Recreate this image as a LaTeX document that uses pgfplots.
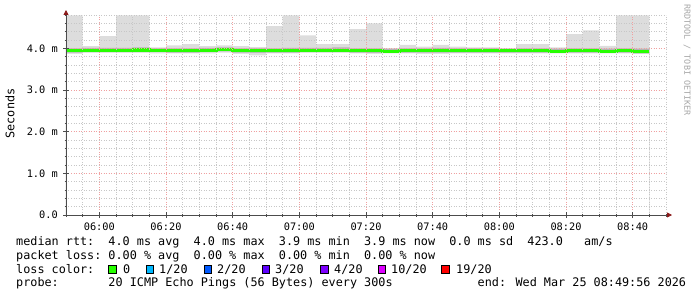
\documentclass[border=0pt]{standalone}
\usepackage{pgfplots}
\pgfplotsset{compat=1.18}
\usepackage{pgfplotstable}
\usepackage{fontspec}
\setmainfont{DejaVu Sans Mono}
\usetikzlibrary{arrows.meta}

\definecolor{smokeA}{HTML}{DDDDDD}
\definecolor{smokeB}{HTML}{B4B4B4}
\definecolor{loss0}{HTML}{26FF00}
\definecolor{loss1}{HTML}{00B8FF}
\definecolor{loss2}{HTML}{0059FF}
\definecolor{loss3}{HTML}{5E00FF}
\definecolor{loss4}{HTML}{7E00FF}
\definecolor{loss10}{HTML}{DD00FF}
\definecolor{loss19}{HTML}{FF0000}
\definecolor{mgrid}{HTML}{F0A0A0}
\definecolor{arrowred}{HTML}{8B1A1A}

\newcommand\lf{\fontsize{11.8bp}{14bp}\selectfont}
\newcommand\tf{\fontsize{10.3bp}{12bp}\selectfont}

\pgfplotstableread{
x   top  hi   med  lo   bot
0   4.79 4.00 3.94 3.90 3.87
5   4.05 4.01 3.95 3.91 3.89
10  4.29 4.01 3.95 3.91 3.89
15  4.79 4.01 3.95 3.91 3.89
20  4.79 4.02 3.96 3.92 3.89
25  4.02 4.00 3.95 3.91 3.88
30  4.07 4.00 3.94 3.90 3.88
35  4.10 4.00 3.94 3.90 3.88
40  4.05 4.01 3.95 3.91 3.88
45  4.07 4.02 3.97 3.93 3.90
50  4.05 4.00 3.94 3.90 3.87
55  4.03 4.00 3.94 3.89 3.83
60  4.53 4.00 3.94 3.90 3.88
65  4.79 4.01 3.94 3.90 3.88
70  4.31 4.01 3.95 3.91 3.89
75  4.10 4.01 3.95 3.91 3.89
80  4.10 4.02 3.95 3.91 3.89
85  4.46 4.00 3.94 3.90 3.88
90  4.60 4.00 3.94 3.89 3.87
95  4.00 3.99 3.93 3.90 3.88
100 4.08 4.00 3.94 3.90 3.88
105 4.04 4.00 3.94 3.90 3.87
110 4.08 4.01 3.94 3.90 3.87
115 4.04 4.00 3.94 3.90 3.88
120 4.02 4.00 3.94 3.90 3.88
125 4.02 4.00 3.94 3.90 3.88
130 4.00 3.99 3.94 3.90 3.88
135 4.10 4.00 3.94 3.90 3.88
140 4.10 4.00 3.94 3.90 3.88
145 4.02 3.99 3.93 3.90 3.88
150 4.34 4.00 3.94 3.90 3.88
155 4.43 4.00 3.94 3.90 3.88
160 4.06 3.99 3.93 3.89 3.88
165 4.79 4.00 3.94 3.90 3.88
170 4.79 3.99 3.93 3.88 3.86
175 4.79 3.99 3.93 3.88 3.86
}\smoke

\newcommand\seg[3]{\node[anchor=base west,inner sep=0pt,font=\lf] at ({-50+#1*7.1},#2) {#3};}

\begin{document}
\begin{tikzpicture}[x=1bp,y=1bp]
\path[use as bounding box] (-66,-82) rectangle (631,215);
\begin{axis}[
  at={(0,0)}, anchor=south west,
  scale only axis, width=600bp, height=200bp,
  xmin=0, xmax=180, ymin=0, ymax=4.8,
  axis on top,
  axis lines=left,
  axis line style={draw=black!70, line width=0.8bp},
  x axis line style={-{Triangle[length=5bp,width=5bp,color=arrowred]}, shorten >=-6bp},
  y axis line style={-{Triangle[length=5bp,width=5bp,color=arrowred]}, shorten >=-5bp},
  xtick={10,30,...,170},
  xticklabels={06:00,06:20,06:40,07:00,07:20,07:40,08:00,08:20,08:40},
  minor xtick={0,5,...,180},
  ytick={0,1,2,3,4},
  yticklabels={0.0,1.0 m,2.0 m,3.0 m,4.0 m},
  minor ytick={0,0.2,...,4.8},
  grid=both,
  minor grid style={draw=black!22, line width=0.6bp, dash pattern=on 1bp off 1.5bp},
  major grid style={draw=mgrid, line width=0.6bp, dash pattern=on 1bp off 1.5bp},
  tick align=center,
  major tick length=6bp, minor tick length=3bp,
  tick style={draw=black!70, line width=0.6bp},
  /pgf/number format/assume math mode=true,
  xticklabel style={font=\tf, inner sep=0pt, anchor=north, yshift=-5bp},
  yticklabel style={font=\tf, inner sep=0pt, anchor=east, xshift=-5bp},
]
\addplot[const plot, fill=smokeA, draw=none] table[x=x,y=top]{\smoke} \closedcycle;
\addplot[const plot, fill=smokeB, draw=none] table[x=x,y=hi]{\smoke} \closedcycle;
\addplot[const plot, fill=smokeA, draw=none] table[x=x,y=lo]{\smoke} \closedcycle;
\addplot[const plot, fill=white, draw=none] table[x=x,y=bot]{\smoke} \closedcycle;
\addplot[const plot, draw=loss0, line width=3bp] table[x=x,y=med]{\smoke};
\end{axis}

\node[rotate=90, font=\lf] at (-56,101.5) {Seconds};
\node[rotate=-90, font=\fontsize{8.4bp}{9bp}\selectfont, text=black!35] at (621,155) {RRDTOOL / TOBI OETIKER};

\seg{0}{-30}{median rtt:}
\seg{13}{-30}{4.0 ms avg}
\seg{25}{-30}{4.0 ms max}
\seg{37}{-30}{3.9 ms min}
\seg{49}{-30}{3.9 ms now}
\seg{61}{-30}{0.0 ms sd}
\seg{72}{-30}{423.0}
\seg{80}{-30}{am/s}

\seg{0}{-44}{packet loss:}
\seg{13}{-44}{0.00 \% avg}
\seg{25}{-44}{0.00 \% max}
\seg{37}{-44}{0.00 \% min}
\seg{49}{-44}{0.00 \% now}

\seg{0}{-58}{loss color:}
\foreach \bx/\tx/\c/\t in {42.7/57/loss0/0, 80/93/loss1/1\slash 20, 138/151/loss2/2\slash 20, 196/209/loss3/3\slash 20, 254.7/268/loss4/4\slash 20, 312/325/loss10/10\slash 20, 375.7/390/loss19/19\slash 20}{
  \draw[fill=\c, draw=black, line width=0.8bp] (\bx,-58) rectangle ++(7.3,7.3);
  \node[anchor=base west,inner sep=0pt,font=\lf] at (\tx,-58) {\t};
}

\seg{0}{-71.5}{probe:}
\seg{13}{-71.5}{20 ICMP Echo Pings (56 Bytes) every 300s}
\seg{65}{-71.5}{end: Wed Mar 25 08:49:56 2026}
\end{tikzpicture}
\end{document}
